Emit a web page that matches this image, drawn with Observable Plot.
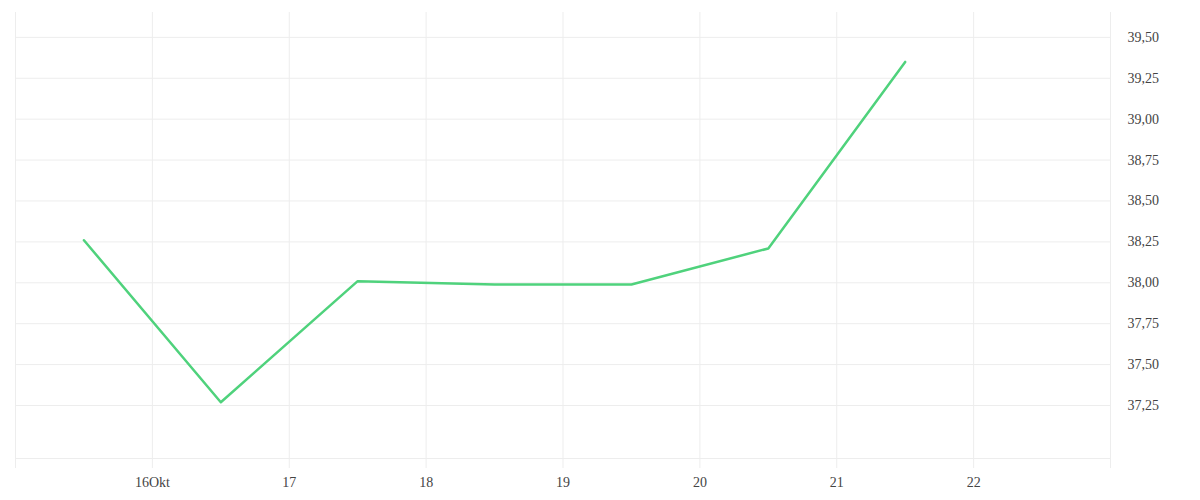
<!DOCTYPE html>
<html>
<head>
<meta charset="utf-8">
<script src="https://cdn.jsdelivr.net/npm/d3@7"></script>
<script src="https://cdn.jsdelivr.net/npm/@observablehq/plot@0.6"></script>
<style>
  html, body { margin: 0; padding: 0; background: #fff; }
  #chart svg { display: block; }
</style>
</head>
<body>
<div id="chart"></div>
<script>
// Data (October, one value per day at midday)
const days = [15, 16, 17, 18, 19, 20, 21];
const values = [38.26, 37.27, 38.01, 37.99, 37.99, 38.21, 39.35];
const xTickDays = [16, 17, 18, 19, 20, 21, 22];
const xTickLabels = ["16Okt", "17", "18", "19", "20", "21", "22"];
const xGridDays = [15, 16, 17, 18, 19, 20, 21, 22, 23];
const yTicks = [37.25, 37.5, 37.75, 38.0, 38.25, 38.5, 38.75, 39.0, 39.25, 39.5];
const yDomain = [36.926, 39.652];

const day = d => new Date(Date.UTC(2023, 9, d));
const noon = d => new Date(Date.UTC(2023, 9, d, 12));
const data = days.map((d, i) => ({date: noon(d), value: values[i]}));
const labelMap = new Map(xTickDays.map((d, i) => [+day(d), xTickLabels[i]]));

const plot = Plot.plot({
  width: 1200,
  height: 500,
  marginLeft: 15,
  marginRight: 90,
  marginTop: 12,
  marginBottom: 42,
  style: {fontFamily: "'Liberation Serif', serif", fontSize: "14px", color: "#444", background: "#fff"},
  x: {type: "utc", domain: [day(15), day(23)]},
  y: {domain: yDomain},
  marks: [
    Plot.ruleY(yTicks, {stroke: "#ededed", strokeWidth: 1}),
    Plot.ruleY([yDomain[0]], {stroke: "#ededed", strokeWidth: 1}),
    Plot.ruleX(xGridDays.map(day), {stroke: "#ededed", strokeWidth: 1, insetBottom: -10}),
    Plot.axisX(xTickDays.map(day), {
      tickSize: 0, tickPadding: 19,
      tickFormat: d => labelMap.get(+d),
      label: null, fill: "#444"
    }),
    Plot.axisY(yTicks, {
      anchor: "right", tickSize: 0, tickPadding: 17, textAnchor: "start",
      tickFormat: v => v.toFixed(2).replace(".", ","),
      label: null, fill: "#444"
    }),
    Plot.line(data, {x: "date", y: "value", stroke: "#4fd27c", strokeWidth: 2.5})
  ]
});
document.getElementById("chart").append(plot);
</script>
</body>
</html>
